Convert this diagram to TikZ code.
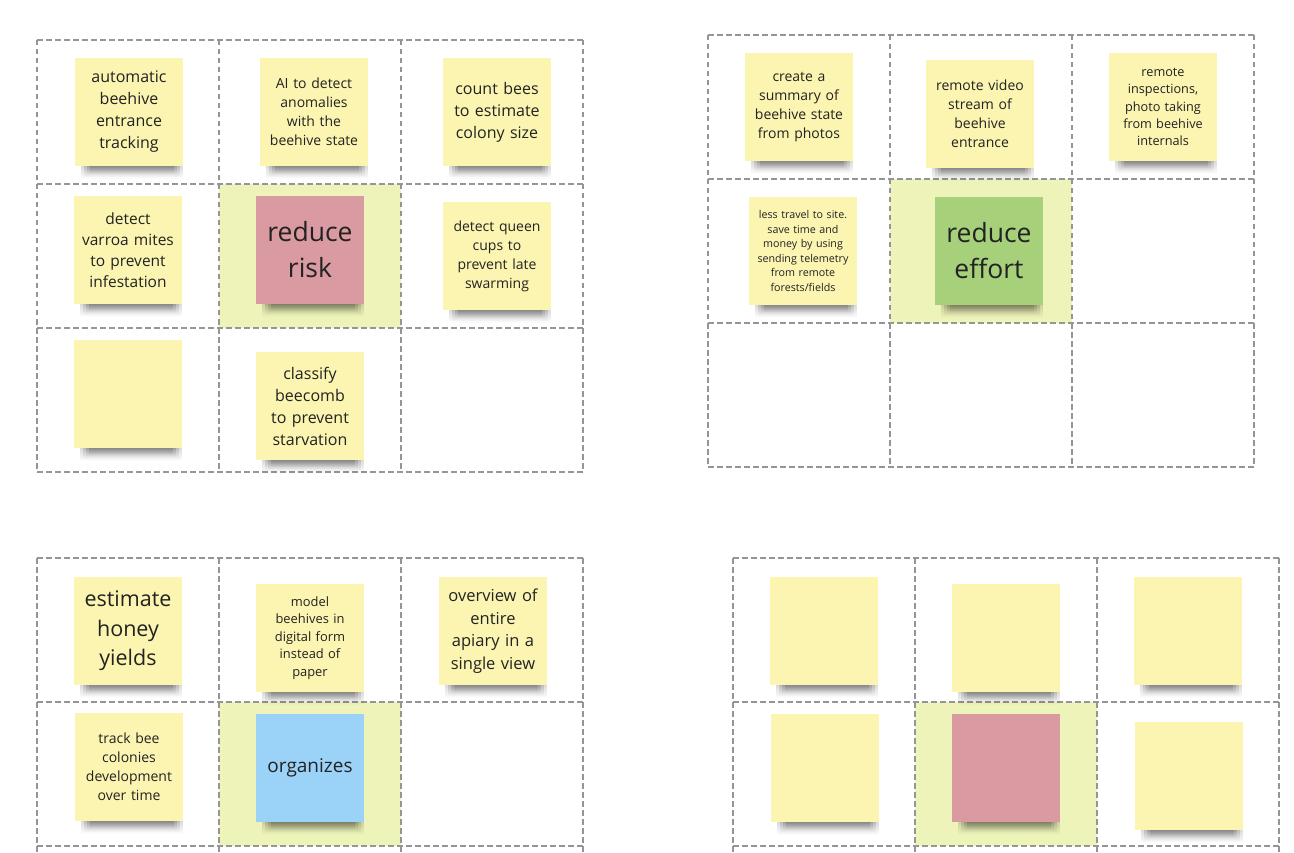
\documentclass[tikz,border=0pt]{standalone}
\usepackage{fontspec}
\setmainfont{Open Sans}
\usetikzlibrary{positioning,fadings}
\definecolor{noteyellow}{HTML}{FBF5B1}
\definecolor{notered}{HTML}{DA9AA1}
\definecolor{notegreen}{HTML}{A7D07B}
\definecolor{noteblue}{HTML}{9BD3F8}
\definecolor{focus}{HTML}{EEF4B9}
\definecolor{gridgray}{HTML}{959595}
\definecolor{ink}{HTML}{222222}
\tikzfading[name=shadowfade, top color=transparent!0, bottom color=transparent!100]
\newcommand{\fs}[2]{\fontsize{#1}{#2}\selectfont}

\begin{document}
\begin{tikzpicture}[x=1pt, y=-1pt,
  cell/.style={draw=gridgray, dash pattern=on 5.5pt off 3.5pt, line width=1.2pt},
  rowline/.style={cell, line width=1.7pt},
  focuscell/.style={fill=focus},
  note/.style={rectangle, fill=noteyellow, minimum width=108pt,
               minimum height=108pt, text width=104pt, align=center,
               inner sep=0pt, text=ink},
  shade/.style={fill=black, fill opacity=0.14, path fading=shadowfade}
]
  \useasboundingbox (0,0) rectangle (1294,853);
  \clip (0,0) rectangle (1294,853);

  %--- GRIDS ---
  \foreach \gx/\gy in {37/40, 708/35, 37/558, 733/558}{
    \fill[focuscell] (\gx+182, \gy+144) rectangle ++(182,144);
    % columns
    \foreach \c in {0,1,2,3}{
      \draw[cell] (\gx+\c*182, \gy) -- ++(0,432);
    }
    % rows
    \draw[cell] (\gx, \gy) -- ++(546,0);
    \draw[cell] (\gx, \gy+432) -- ++(546,0);
    \foreach \r in {1,2}{
      \draw[rowline] (\gx, \gy+\r*144) -- ++(546,0);
    }
  }

  %--- RISK ---
  \node[note, font=\fs{16}{22}] (r11) at (129,112) {automatic\\beehive\\entrance\\tracking};
  \node[note, font=\fs{14}{19}] (r12) at (314,112) {AI to detect\\anomalies\\with the\\beehive state};
  \node[note, font=\fs{16}{22}] (r13) at (497,112) {count bees\\to estimate\\colony size};
  \node[note, font=\fs{15.5}{21}] (r21) at (128,250) {detect\\varroa mites\\to prevent\\infestation};
  \node[note, fill=notered, font=\fs{26.5}{36}] (r22) at (310,250) {reduce\\risk};
  \node[note, font=\fs{14}{19}] (r23) at (497,256) {detect queen\\cups to\\prevent late\\swarming};
  \node[note] (r31) at (128,394) {};
  \node[note, font=\fs{16}{22}] (r32) at (310,406) {classify\\beecomb\\to prevent\\starvation};

  %--- EFFORT ---
  \node[note, font=\fs{14}{19}] (e11) at (799,107) {create a\\summary of\\beehive state\\from photos};
  \node[note, font=\fs{14}{19}] (e12) at (980,114) {remote video\\stream of\\beehive\\entrance};
  \node[note, font=\fs{12.7}{17.3}] (e13) at (1163,107) {remote\\inspections,\\photo taking\\from beehive\\internals};
  \node[note, font=\fs{10.7}{14.6}] (e21) at (803,251) {less travel to site.\\save time and\\money by using\\sending telemetry\\from remote\\forests/fields};
  \node[note, fill=notegreen, font=\fs{26.5}{36}] (e22) at (989,251) {reduce\\effort};

  %--- ORGANIZES ---
  \node[note, font=\fs{21.5}{29.5}] (o11) at (128,631) {estimate\\honey\\yields};
  \node[note, font=\fs{12.9}{17.5}] (o12) at (310,638) {model\\beehives in\\digital form\\instead of\\paper};
  \node[note, font=\fs{16.5}{22.5}] (o13) at (493,631) {overview of\\entire\\apiary in a\\single view};
  \node[note, font=\fs{14}{19}] (o21) at (129,767) {track bee\\colonies\\development\\over time};
  \node[note, fill=noteblue, font=\fs{19}{24}] (o22) at (310,768) {organizes};

  %--- BLANK ---
  \node[note] (b11) at (824,631) {};
  \node[note] (b12) at (1006,638) {};
  \node[note] (b13) at (1188,631) {};
  \node[note] (b21) at (825,768) {};
  \node[note, fill=notered] (b22) at (1006,768) {};
  \node[note] (b23) at (1189,776) {};

  % Shadows
  \foreach \n in {r11,r12,r13,r21,r22,r23,r31,r32,e11,e12,e13,e21,e22,
                  o11,o12,o13,o21,o22,b11,b12,b13,b21,b22,b23}{
    \foreach \k in {0,1,2,3}{
      \fill[shade] ([xshift=6pt+\k*3pt]\n.south west)
        rectangle ([xshift=-\k*3pt, yshift=-13pt+\k*2pt]\n.south east);
    }
  }

\end{tikzpicture}
\end{document}
